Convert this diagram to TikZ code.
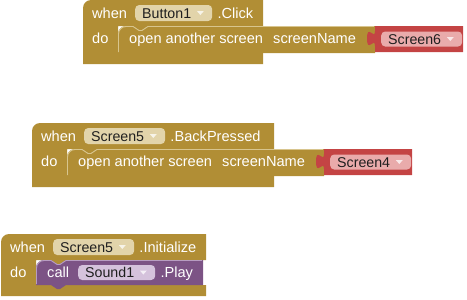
\documentclass[tikz,border=0pt]{standalone}
\usepackage{fontspec}
\setmainfont{Liberation Sans}
\definecolor{ctrl}{HTML}{B18E35}
\definecolor{ctrlfield}{HTML}{E2D4AA}
\definecolor{ctrlhi}{HTML}{D8C58E}
\definecolor{txtred}{HTML}{C44444}
\definecolor{txtfield}{HTML}{E9ABAB}
\definecolor{comp}{HTML}{7C5385}
\definecolor{compfield}{HTML}{D5C2DC}
\definecolor{comphi}{HTML}{B79CC1}
\newcommand{\blkfont}{\fontsize{14.6bp}{17bp}\selectfont}
\newcommand{\fldfont}{\fontsize{14.2bp}{17bp}\selectfont}
\newcommand{\ddgap}{\kern14bp}

% event block: C-shaped body of width #1, statement slot ending at #2
\newcommand{\evshape}[2]{%
  \fill[ctrl] (0,#2+11) -- (0,8) .. controls (0,3.6) and (3.6,0) .. (8,0)
    -- (#1,0) -- (#1,26) -- (65,26) -- (59,30) -- (56,30) -- (50,26) -- (35,26)
    -- (35,#2) -- (#1,#2) -- (#1,#2+11) -- cycle;}
% statement block at (#1,#2), width #3, height #4, fill #5, highlight #6
\newcommand{\stshape}[6]{%
  \begin{scope}[shift={(#1,#2)}]
    \fill[#5] (0,#4) -- (0,8) .. controls (0,3.6) and (3.6,0) .. (8,0)
      -- (15,0) -- (21,4) -- (24,4) -- (30,0) -- (#3,0) -- (#3,#4)
      -- (30,#4) -- (24,#4+4) -- (21,#4+4) -- (15,#4) -- cycle;
    \draw[#6, line width=0.9bp] (0.5,#4-1) -- (0.5,8) .. controls (0.5,3.9) and (3.9,0.5) .. (8,0.5)
      -- (15,0.5) -- (21,4.5) -- (24,4.5) -- (30,0.5) -- (#3-1,0.5);
  \end{scope}}
% value block with output tab at (#1,#2), width #3, height #4
\newcommand{\valshape}[4]{%
  \begin{scope}[shift={(#1,#2)}]
    \fill[txtred] (0,0) -- (#3,0) -- (#3,#4) -- (0,#4) -- (0,20)
      .. controls (0,10) and (-8,28) .. (-8,12.5)
      .. controls (-8,-3) and (0,15) .. (0,5) -- cycle;
  \end{scope}}
% drop-down arrow inside field node #1
\newcommand{\ddarrow}[1]{%
  \fill[white, opacity=.75] ([xshift=-15.5bp,yshift=2bp]#1.east) -- ++(7,0) -- ++(-3.5,4) -- cycle;}

\tikzset{
  lbl/.style={anchor=west, inner sep=0pt, text height=10.4bp, text depth=0pt,
    text=white, font=\blkfont},
  ddf/.style={anchor=west, rounded corners=4bp, inner xsep=7bp, inner ysep=0pt,
    minimum height=16bp, text height=10.2bp, text depth=0pt, text=black!88,
    font=\fldfont},
}

\begin{document}
\begin{tikzpicture}[x=1bp, y=-1bp]
\useasboundingbox (0,0) rectangle (467,299);

% ---- when Button1.Click ----
\begin{scope}[shift={(83,0)}]
  \evshape{180}{53}
  \stshape{35}{26}{257}{27}{ctrl}{ctrlhi}
  \valshape{292}{26}{88}{26}
  \node[lbl] (w1) at (9,13) {when};
  \node[ddf, fill=ctrlfield] (f1) at (52,13) {Button1\ddgap};
  \ddarrow{f1}
  \node[lbl] (e1) at ([xshift=5bp]f1.east) {.Click};
  \node[lbl] (d1) at (9,38.5) {do};
  \node[lbl] (s1) at (46,38.5) {open another screen};
  \node[lbl] (p1) at (190,38.5) {screenName};
  \node[ddf, fill=txtfield, minimum height=15bp] (v1) at (298,39) {Screen6\ddgap};
  \ddarrow{v1}
\end{scope}

% ---- when Screen5.BackPressed ----
\begin{scope}[shift={(32,123)}]
  \evshape{242}{53}
  \stshape{35}{26}{257}{27}{ctrl}{ctrlhi}
  \valshape{292}{26}{88}{26}
  \node[lbl] (w2) at (9,13) {when};
  \node[ddf, fill=ctrlfield] (f2) at (52,13) {Screen5\ddgap};
  \ddarrow{f2}
  \node[lbl] (e2) at ([xshift=5bp]f2.east) {.BackPressed};
  \node[lbl] (d2) at (9,38.5) {do};
  \node[lbl] (s2) at (46,38.5) {open another screen};
  \node[lbl] (p2) at (190,38.5) {screenName};
  \node[ddf, fill=txtfield, minimum height=15bp] (v2) at (298,39) {Screen4\ddgap};
  \ddarrow{v2}
\end{scope}

% ---- when Screen5.Initialize ----
\begin{scope}[shift={(1,234)}]
  \evshape{205}{51}
  \stshape{35}{26}{167}{25}{comp}{comphi}
  \node[lbl] (w3) at (9,13) {when};
  \node[ddf, fill=ctrlfield] (f3) at (52,13) {Screen5\ddgap};
  \ddarrow{f3}
  \node[lbl] (e3) at ([xshift=5bp]f3.east) {.Initialize};
  \node[lbl] (d3) at (9,38.5) {do};
  \node[lbl] (c3) at (46,38.5) {call};
  \node[ddf, fill=compfield, minimum height=15bp] (f4) at (77,38.5) {Sound1\ddgap};
  \ddarrow{f4}
  \node[lbl] (m3) at ([xshift=5bp]f4.east) {.Play};
\end{scope}
\end{tikzpicture}
\end{document}
